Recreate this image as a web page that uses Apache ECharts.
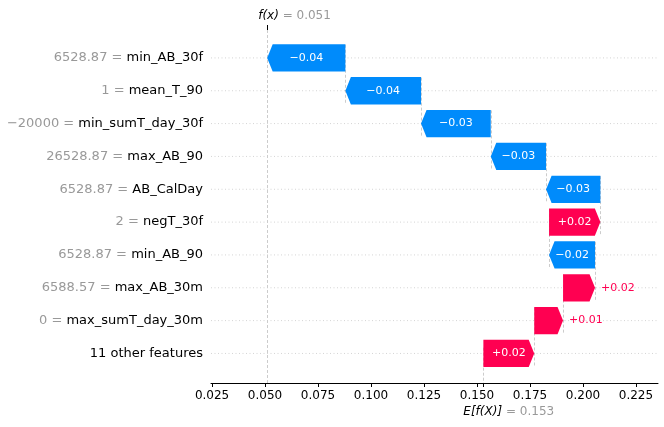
<!DOCTYPE html>
<html>
<head>
<meta charset="utf-8">
<script src="https://cdn.jsdelivr.net/npm/echarts@6/dist/echarts.min.js"></script>
<style>
  html, body { margin: 0; padding: 0; background: #fff; }
  #chart { width: 664px; height: 427px; }
</style>
</head>
<body>
<div id="chart"></div>
<script>
// rows from top to bottom
const features = ['min_AB_30f', 'mean_T_90', 'min_sumT_day_30f', 'max_AB_90', 'AB_CalDay',
  'negT_30f', 'min_AB_90', 'max_AB_30m', 'max_sumT_day_30m', '11 other features']
const featureValues = ['6528.87', '1', '\u221220000', '26528.87', '6528.87', '2', '6528.87', '6588.57', '0', '']
const shapValues = [-0.0369, -0.0357, -0.0329, -0.0261, -0.0256, 0.0242, -0.0217, 0.0151, 0.0136, 0.024]
const baseValue = 0.153
const xTicks = [0.025, 0.05, 0.075, 0.1, 0.125, 0.15, 0.175, 0.2, 0.225]

const X_MIN = 0.0245
const X_MAX = 0.2354
const Y_MIN = -0.85
const Y_MAX = 9.9

const RED = '#ff0051'
const BLUE = '#008bfb'
const FONT = '"DejaVu Sans", sans-serif'

// cumulative bar positions, built up from the base value (bottom row)
const bars = []
let acc = baseValue
for (let i = features.length - 1; i >= 0; i--) {
  bars[i] = [acc, acc + shapValues[i], i, shapValues[i]]
  acc += shapValues[i]
}
const fx = acc

// dashed guide lines: [x, yFrom, yTo]
const guides = []
for (let i = 0; i < features.length - 1; i++) {
  guides.push([bars[i][0], i - 0.4, i + 1.4])
}
guides.push([fx, Y_MIN, Y_MAX])
guides.push([baseValue, Y_MAX - (Y_MAX - Y_MIN) / features.length, Y_MAX])

const fmtShap = (v) => (v < 0 ? '\u2212' : '+') + Math.abs(v).toFixed(2)

const chart = echarts.init(document.getElementById('chart'))

const options = {
  animation: false,
  grid: { left: 211, right: 6, top: 30, bottom: 44 },
  xAxis: [{
    type: 'value',
    position: 'bottom',
    min: X_MIN,
    max: X_MAX,
    splitLine: { show: false },
    axisLine: { show: true, onZero: false, lineStyle: { color: '#000', width: 1 } },
    axisTick: { show: true, customValues: xTicks, length: 4, lineStyle: { color: '#000' } },
    axisLabel: {
      customValues: xTicks,
      formatter: (v) => v.toFixed(3),
      color: '#000',
      fontFamily: FONT,
      fontSize: 12,
      margin: 7
    }
  }, {
    type: 'value',
    position: 'top',
    min: X_MIN,
    max: X_MAX,
    splitLine: { show: false },
    axisLine: { show: false, onZero: false },
    axisTick: { show: true, customValues: [fx], length: 5, lineStyle: { color: '#000' } },
    axisLabel: {
      customValues: [fx],
      align: 'left',
      padding: [0, 0, 0, -9],
      margin: 8,
      formatter: () => '{i|f(x)}{g| = ' + fx.toFixed(3) + '}',
      rich: {
        i: { fontFamily: FONT, fontSize: 12, fontStyle: 'italic', color: '#000' },
        g: { fontFamily: FONT, fontSize: 12, color: '#999999' }
      }
    }
  }, {
    type: 'value',
    position: 'bottom',
    min: X_MIN,
    max: X_MAX,
    splitLine: { show: false },
    axisLine: { show: false, onZero: false },
    axisTick: { show: true, customValues: [baseValue], length: 4, lineStyle: { color: '#000' } },
    axisLabel: {
      customValues: [baseValue],
      align: 'left',
      padding: [0, 0, 0, -20],
      margin: 23,
      formatter: () => '{i|E[f(X)]}{g| = ' + baseValue.toFixed(3) + '}',
      rich: {
        i: { fontFamily: FONT, fontSize: 12, fontStyle: 'italic', color: '#000' },
        g: { fontFamily: FONT, fontSize: 12, color: '#999999' }
      }
    }
  }],
  yAxis: {
    type: 'value',
    inverse: true,
    min: Y_MIN,
    max: Y_MAX,
    splitLine: { show: false },
    axisLine: { show: false, onZero: false },
    axisTick: { show: false },
    axisLabel: {
      customValues: features.map((f, i) => i),
      margin: 8,
      formatter: (v) => {
        const i = Math.round(v)
        const val = featureValues[i]
        return (val ? '{v|' + val + ' = }' : '') + '{n|' + features[i] + '}'
      },
      rich: {
        v: { fontFamily: FONT, fontSize: 13, color: '#999999' },
        n: { fontFamily: FONT, fontSize: 13, color: '#000' }
      }
    }
  },
  series: [{
    // dotted row lines
    type: 'custom',
    z: 1,
    data: features.map((f, i) => [i]),
    encode: { y: 0 },
    renderItem: (params, api) => {
      const row = api.value(0)
      const a = api.coord([X_MIN, row])
      const b = api.coord([X_MAX, row])
      return {
        type: 'line',
        shape: { x1: a[0], y1: a[1], x2: b[0], y2: b[1] },
        style: { stroke: '#d4d4d4', lineWidth: 1, lineDash: [1, 2.5] }
      }
    }
  }, {
    // dashed connectors and f(x) / E[f(X)] lines
    type: 'custom',
    z: 2,
    data: guides,
    encode: { x: 0, y: [1, 2] },
    renderItem: (params, api) => {
      const a = api.coord([api.value(0), api.value(1)])
      const b = api.coord([api.value(0), api.value(2)])
      const x = Math.round(a[0]) + 0.5
      return {
        type: 'line',
        shape: { x1: x, y1: a[1], x2: x, y2: b[1] },
        style: { stroke: '#cccccc', lineWidth: 1, lineDash: [3, 2] }
      }
    }
  }, {
    // arrows
    type: 'custom',
    z: 3,
    data: bars,
    encode: { x: [0, 1], y: 2 },
    renderItem: (params, api) => {
      const s = api.value(0)
      const e = api.value(1)
      const row = api.value(2)
      const v = api.value(3)
      const p0 = api.coord([s, row])
      const p1 = api.coord([e, row])
      const half = api.size([0, 1])[1] * 0.415
      const yc = p0[1]
      const yT = yc - half
      const yB = yc + half
      const len = Math.abs(p1[0] - p0[0])
      const dir = p1[0] > p0[0] ? 1 : -1
      const head = Math.min(5.5, len)
      const color = v >= 0 ? RED : BLUE
      const inside = len > 40
      const text = fmtShap(v)
      return {
        type: 'group',
        children: [{
          type: 'polygon',
          shape: {
            points: [
              [p0[0], yT],
              [p1[0] - dir * head, yT],
              [p1[0], yc],
              [p1[0] - dir * head, yB],
              [p0[0], yB]
            ]
          },
          style: { fill: color }
        }, {
          type: 'text',
          style: {
            text: text,
            x: inside ? (p0[0] + p1[0]) / 2 : p1[0] + dir * 6,
            y: yc,
            align: inside ? 'center' : (dir > 0 ? 'left' : 'right'),
            verticalAlign: 'middle',
            fill: inside ? '#fff' : color,
            fontFamily: FONT,
            fontSize: 11
          }
        }]
      }
    }
  }]
}

chart.setOption(options)
</script>
</body>
</html>
